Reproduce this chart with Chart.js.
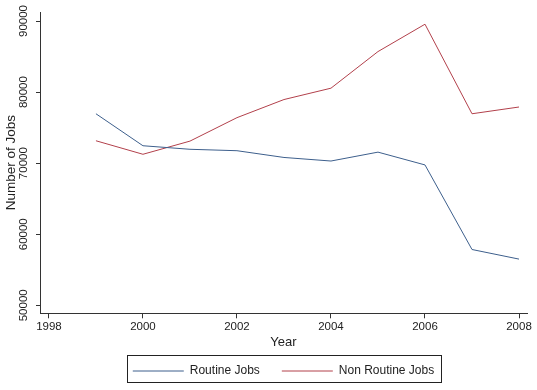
<!DOCTYPE html>
<html>
<head>
<meta charset="utf-8">
<script src="https://cdn.jsdelivr.net/npm/chart.js@4/dist/chart.umd.min.js"></script>
<style>
  html, body { margin: 0; padding: 0; background: #fff; }
  #wrap { width: 537px; height: 390px; }
</style>
</head>
<body>
<div id="wrap"><canvas id="jobs" width="537" height="390"></canvas></div>
<script>
const years = [1999, 2000, 2001, 2002, 2003, 2004, 2005, 2006, 2007, 2008];
const routineJobs = [76950, 72450, 71950, 71750, 70800, 70300, 71550, 69750, 57850, 56500];
const nonRoutineJobs = [73150, 71250, 73100, 76400, 78950, 80550, 85700, 89550, 76950, 77900];
const seriesNames = ["Routine Jobs", "Non Routine Jobs"];
const yearTicks = [1998, 2000, 2002, 2004, 2006, 2008];
const jobTicks = [50000, 60000, 70000, 80000, 90000];

const textColor = "#222";
const axisColor = "#333";

function toPoints(values) {
  return years.map((yr, i) => ({ x: yr, y: values[i] }));
}

//legend centered under the plot area, with a box round it (stata style)
const legendBorder = {
  id: "legendBorder",
  afterLayout(chart) {
    chart.legend.left = chart.chartArea.left;
    chart.legend.right = chart.chartArea.right;
  },
  afterDraw(chart) {
    const boxes = chart.legend.legendHitBoxes;
    if (!boxes || !boxes.length) return;
    const first = boxes[0];
    const last = boxes[boxes.length - 1];
    const mid = first.top + first.height / 2;
    const ctx = chart.ctx;
    ctx.save();
    ctx.strokeStyle = "#222";
    ctx.lineWidth = 1;
    ctx.strokeRect(Math.round(first.left - 6) + 0.5, Math.round(mid - 16) + 0.5,
      Math.round(last.left + last.width - first.left + 13), 27);
    ctx.restore();
  }
};

const ctx = document.getElementById("jobs").getContext("2d");
const jobsChart = new Chart(ctx, {
  type: "line",
  data: {
    datasets: [{
      label: seriesNames[0],
      data: toPoints(routineJobs),
      borderColor: "#3d5f8c",
      backgroundColor: "#3d5f8c",
      borderWidth: 1,
      pointRadius: 0,
      tension: 0
    }, {
      label: seriesNames[1],
      data: toPoints(nonRoutineJobs),
      borderColor: "#b2404b",
      backgroundColor: "#b2404b",
      borderWidth: 1,
      pointRadius: 0,
      tension: 0
    }]
  },
  options: {
    responsive: false,
    animation: false,
    layout: { padding: { left: 0, right: 10, top: 12, bottom: 3 } },
    plugins: {
      tooltip: { enabled: false },
      legend: {
        position: "bottom",
        labels: {
          usePointStyle: true,
          pointStyle: "line",
          pointStyleWidth: 51,
          padding: 22,
          color: textColor,
          font: { family: "Arial, 'Liberation Sans'", size: 12 }
        }
      }
    },
    scales: {
      x: {
        type: "linear",
        min: 1997.81,
        max: 2008.17,
        afterFit(scale) { scale.height = 29.7; },
        afterBuildTicks(scale) { scale.ticks = yearTicks.map(v => ({ value: v })); },
        ticks: {
          padding: 2,
          color: textColor,
          font: { family: "Arial, 'Liberation Sans'", size: 11.5 },
          callback: v => String(v)
        },
        grid: { drawOnChartArea: false, tickLength: 5, color: axisColor },
        border: { display: true, color: axisColor },
        title: {
          display: true,
          text: "Year",
          color: textColor,
          font: { family: "Arial, 'Liberation Sans'", size: 13 },
          padding: { top: 0, bottom: -7 }
        }
      },
      y: {
        min: 48873,
        max: 91268,
        afterFit(scale) { scale.width = 40; },
        afterBuildTicks(scale) { scale.ticks = jobTicks.map(v => ({ value: v })); },
        ticks: {
          minRotation: 90,
          maxRotation: 90,
          crossAlign: "center",
          padding: -4,
          color: textColor,
          font: { family: "Arial, 'Liberation Sans'", size: 11.5 },
          callback: v => String(v)
        },
        grid: { drawOnChartArea: false, tickLength: 4, color: axisColor },
        border: { display: true, color: axisColor },
        title: {
          display: true,
          text: "Number of Jobs",
          color: textColor,
          font: { family: "Arial, 'Liberation Sans'", size: 13.5 },
          padding: { top: 3, bottom: 0 }
        }
      }
    }
  },
  plugins: [legendBorder]
});
</script>
</body>
</html>
